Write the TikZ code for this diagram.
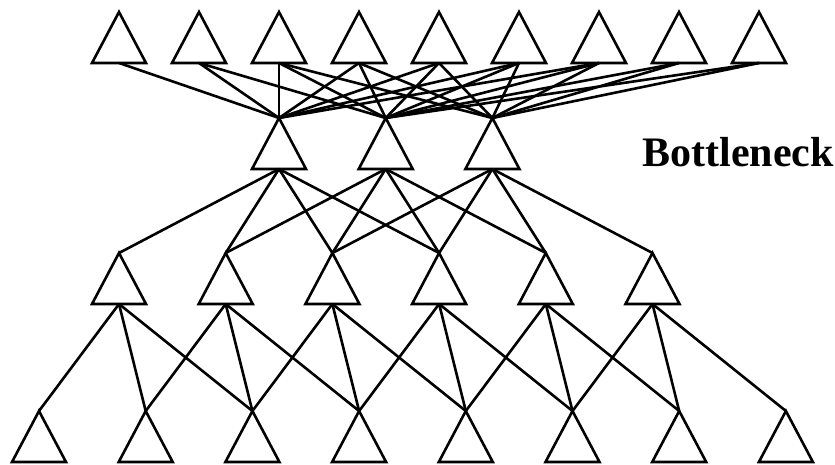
\documentclass[tikz,border=0pt]{standalone}
\usepackage{fontspec}
\setmainfont{Liberation Serif}
\usetikzlibrary{shapes.geometric}

\begin{document}
\begin{tikzpicture}[x=1pt, y=-1pt, unit/.style={draw, line width=2.6pt, isosceles triangle, isosceles triangle stretches, shape border rotate=90, minimum width=54pt, minimum height=51pt, inner sep=0pt, outer sep=0pt, anchor=apex}, link/.style={line width=2.6pt}]
\useasboundingbox (0,0) rectangle (835,465);
% four rows of units
\foreach \i in {1,...,9} \node[unit] (top\i) at ({39+80*\i}, 12) {};
\foreach \i in {1,2,3} \node[unit] (neck\i) at ({172.3+106.7*\i}, 118) {};
\foreach \i in {1,...,6} \node[unit] (mid\i) at ({12.3+106.7*\i}, 253) {};
\foreach \i in {1,...,8} \node[unit] (bot\i) at ({-67.7+106.7*\i}, 411) {};
\node[font=\bfseries\fontsize{42}{42}\selectfont, anchor=base west] (label) at (639,167) {Bottleneck};
% connections
\foreach \i/\list in {1/{1}, 2/{1,2}, 3/{1,2,3}, 4/{1,2,3}, 5/{1,2,3}, 6/{1,2,3}, 7/{1,2,3}, 8/{2,3}, 9/{2,3}}
  \foreach \j in \list \draw[link] (top\i.lower side) -- (neck\j.apex);
\foreach \j in {1,2,3} \foreach \k in {0,...,3} {\pgfmathtruncatemacro\m{\j+\k} \draw[link] (neck\j.lower side) -- (mid\m.apex);}
\foreach \j in {1,...,6} \foreach \k in {0,1,2} {\pgfmathtruncatemacro\m{\j+\k} \draw[link] (mid\j.lower side) -- (bot\m.apex);}
\end{tikzpicture}
\end{document}
